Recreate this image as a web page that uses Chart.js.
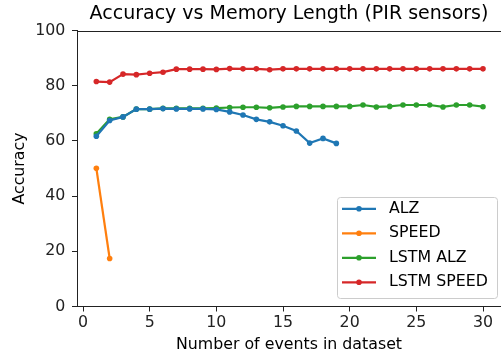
<!DOCTYPE html>
<html>
<head>
<meta charset="utf-8">
<script src="https://cdn.jsdelivr.net/npm/chart.js@4.4.0/dist/chart.umd.min.js"></script>
<style>
  html, body { margin: 0; padding: 0; background: #fff; }
  #wrap { width: 501px; height: 354px; }
</style>
</head>
<body>
<div id="wrap"><canvas id="accuracyChart" width="501" height="354"></canvas></div>
<script>
// Data
const eventsAlz = [1, 2, 3, 4, 5, 6, 7, 8, 9, 10, 11, 12, 13, 14, 15, 16, 17, 18, 19];
const accAlz = [61.7, 67.4, 68.7, 71.5, 71.5, 71.7, 71.6, 71.6, 71.6, 71.4, 70.5, 69.4, 67.8, 66.9, 65.5, 63.6, 59.2, 60.9, 59.1];

const eventsSpeed = [1, 2];
const accSpeed = [50.1, 17.4];

const eventsLstm = [1, 2, 3, 4, 5, 6, 7, 8, 9, 10, 11, 12, 13, 14, 15, 16, 17, 18, 19, 20, 21, 22, 23, 24, 25, 26, 27, 28, 29, 30];
const accLstmAlz = [62.6, 67.8, 68.7, 71.5, 71.5, 71.8, 71.8, 71.8, 71.8, 71.9, 72.1, 72.2, 72.2, 72.0, 72.3, 72.5, 72.5, 72.5, 72.5, 72.5, 73.0, 72.3, 72.5, 73.0, 73.0, 73.0, 72.3, 73.0, 73.0, 72.4];
const accLstmSpeed = [81.5, 81.3, 84.2, 84.0, 84.5, 84.9, 86.0, 86.0, 86.0, 85.9, 86.2, 86.1, 86.1, 85.8, 86.1, 86.1, 86.1, 86.1, 86.1, 86.1, 86.1, 86.1, 86.1, 86.1, 86.1, 86.1, 86.1, 86.1, 86.1, 86.1];

const seriesNames = ['ALZ', 'SPEED', 'LSTM ALZ', 'LSTM SPEED'];
const seriesColors = ['#1f77b4', '#ff7f0e', '#2ca02c', '#d62728'];

const xTicks = [0, 5, 10, 15, 20, 25, 30];
const yTicks = [0, 20, 40, 60, 80, 100];

const font = 'DejaVu Sans';
const labelSize = 15.8;
const titleSize = 19;
const axisColor = '#222';

function toPoints(xs, ys) {
  return xs.map((x, i) => ({ x: x, y: ys[i] }));
}

function makeSet(i, xs, ys) {
  return {
    label: seriesNames[i],
    data: toPoints(xs, ys),
    borderColor: seriesColors[i],
    backgroundColor: seriesColors[i],
    borderWidth: 2.2,
    pointRadius: 2.8,
    pointBorderWidth: 0,
    tension: 0
  };
}

// top spine + matplotlib-like legend box
const framePlugin = {
  id: 'frame',
  afterDraw(chart) {
    const { ctx, chartArea } = chart;
    ctx.save();
    ctx.strokeStyle = axisColor;
    ctx.lineWidth = 1;
    ctx.beginPath();
    ctx.moveTo(chartArea.left, Math.round(chartArea.top) + 0.5);
    ctx.lineTo(chartArea.right, Math.round(chartArea.top) + 0.5);
    ctx.stroke();

    // legend
    const bx = 337.5, by = 197.5, bw = 160, bh = 101;
    ctx.fillStyle = 'rgba(255,255,255,0.8)';
    ctx.strokeStyle = '#cccccc';
    ctx.beginPath();
    ctx.roundRect(bx, by, bw, bh, 3);
    ctx.fill();
    ctx.stroke();

    ctx.font = labelSize + 'px "' + font + '"';
    ctx.textBaseline = 'middle';
    ctx.textAlign = 'left';
    chart.data.datasets.forEach((ds, i) => {
      const y = 208.8 + i * 24.5;
      ctx.strokeStyle = ds.borderColor;
      ctx.lineWidth = 2.2;
      ctx.beginPath();
      ctx.moveTo(342, y);
      ctx.lineTo(376, y);
      ctx.stroke();
      ctx.fillStyle = ds.borderColor;
      ctx.beginPath();
      ctx.arc(359, y, 2.8, 0, Math.PI * 2);
      ctx.fill();
      ctx.fillStyle = '#000';
      ctx.fillText(ds.label, 389, y);
    });
    ctx.restore();
  }
};

const ctx = document.getElementById('accuracyChart').getContext('2d');
new Chart(ctx, {
  type: 'line',
  data: {
    datasets: [
      makeSet(0, eventsAlz, accAlz),
      makeSet(1, eventsSpeed, accSpeed),
      makeSet(2, eventsLstm, accLstmAlz),
      makeSet(3, eventsLstm, accLstmSpeed)
    ]
  },
  options: {
    responsive: false,
    animation: false,
    devicePixelRatio: 1,
    layout: { autoPadding: false, padding: 0 },
    plugins: {
      legend: { display: false },
      tooltip: { enabled: false },
      title: {
        display: true,
        fullSize: false,
        text: 'Accuracy vs Memory Length (PIR sensors)',
        color: '#000',
        font: { family: font, size: titleSize, weight: 'normal' },
        padding: { top: 2.9, bottom: 4.8 }
      }
    },
    scales: {
      x: {
        type: 'linear',
        min: -0.45,
        max: 31.35,
        afterBuildTicks(scale) {
          scale.ticks = xTicks.map(v => ({ value: v }));
        },
        afterFit(scale) {
          scale.height = 47.5;
          scale.paddingLeft = 0;
          scale.paddingRight = 0;
        },
        ticks: {
          includeBounds: false,
          color: axisColor,
          padding: 2,
          maxRotation: 0,
          font: { family: font, size: labelSize }
        },
        grid: { display: true, drawOnChartArea: false, tickLength: 5, color: axisColor },
        border: { color: axisColor, width: 1 },
        title: {
          display: true,
          text: 'Number of events in dataset',
          color: '#000',
          font: { family: font, size: labelSize },
          padding: { top: 0, bottom: 0 }
        }
      },
      y: {
        min: 0,
        max: 100,
        afterBuildTicks(scale) {
          scale.ticks = yTicks.map(v => ({ value: v }));
        },
        afterFit(scale) {
          scale.width = 77;
          scale.paddingTop = 0;
          scale.paddingBottom = 0;
        },
        ticks: {
          color: axisColor,
          padding: 6.6,
          font: { family: font, size: labelSize }
        },
        grid: { display: true, drawOnChartArea: false, tickLength: 5, color: axisColor },
        border: { color: axisColor, width: 1 },
        title: {
          display: true,
          text: 'Accuracy',
          color: '#000',
          font: { family: font, size: labelSize },
          padding: { top: 10.6, bottom: 0 }
        }
      }
    }
  },
  plugins: [framePlugin]
});
</script>
</body>
</html>
